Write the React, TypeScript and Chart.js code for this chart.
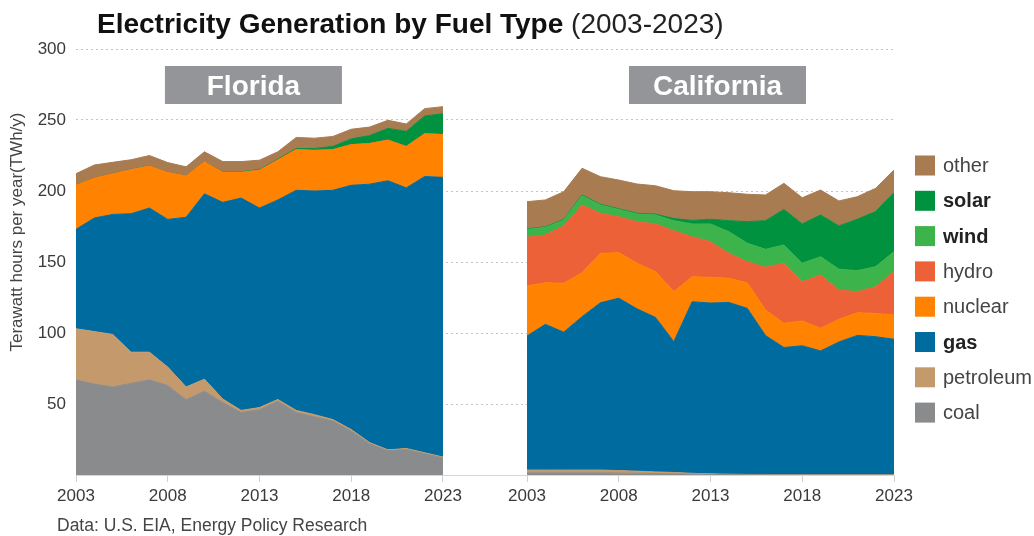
import { useEffect, useRef } from 'react';
import { Chart, registerables } from 'chart.js';

Chart.register(...registerables);

// ---------- data ----------
const years = [2003, 2004, 2005, 2006, 2007, 2008, 2009, 2010, 2011, 2012, 2013, 2014, 2015, 2016, 2017, 2018, 2019, 2020, 2021, 2022, 2023];
const tickYears = [2003, 2008, 2013, 2018, 2023];
const panels = ['Florida', 'California'];
const fuels = ['coal', 'petroleum', 'gas', 'nuclear', 'hydro', 'wind', 'solar', 'other'];
const legendOrder = ['other', 'solar', 'wind', 'hydro', 'nuclear', 'gas', 'petroleum', 'coal'];
const boldFuels = ['solar', 'wind', 'gas'];

const titleMain = 'Electricity Generation by Fuel Type';
const titleSub = ' (2003-2023)';
const yTitle = 'Terawatt hours per year(TWh/y)';
const sourceText = 'Data: U.S. EIA, Energy Policy Research';

// Florida (TWh)
const flCoal = [67, 64, 62, 64.5, 67, 63, 53, 59, 51, 44, 46, 52, 44, 41, 38, 31, 22, 17, 18, 15, 12];
const flPetroleum = [36, 37, 37, 22, 19.5, 13, 9, 8.5, 2.5, 1.5, 1.5, 1.2, 1.5, 1.5, 1, 1, 0.8, 0.7, 0.7, 0.7, 0.6];
const flGas = [70, 80, 84.5, 97.5, 101.5, 104, 119.5, 130.5, 138.5, 149.5, 140.5, 140.5, 155, 157.5, 161.5, 172, 182, 189.5, 183.5, 194.5, 197];
const flNuclear = [31, 28, 28.5, 31, 29.5, 33, 29, 22.5, 21, 18, 26.5, 28, 28.5, 28.5, 28.5, 28.5, 28.5, 28.5, 29, 30, 30];
const flHydro = [0.2, 0.2, 0.2, 0.2, 0.2, 0.2, 0.2, 0.2, 0.2, 0.2, 0.2, 0.2, 0.2, 0.2, 0.2, 0.2, 0.2, 0.2, 0.2, 0.2, 0.2];
const flWind = [0, 0, 0, 0, 0, 0, 0, 0, 0, 0, 0, 0, 0, 0, 0, 0, 0, 0, 0, 0, 0];
const flSolar = [0, 0, 0, 0, 0, 0, 0, 0, 0.2, 0.3, 0.4, 0.5, 0.7, 1.2, 2.2, 4, 5.5, 8.2, 10.6, 12.4, 14.6];
const flOther = [8, 9.1, 8, 6.8, 7.3, 6.8, 6.3, 6.9, 7.3, 7.2, 6.6, 5.2, 7.8, 7.3, 7, 6.8, 6, 5.7, 5.2, 5.2, 5];

// California (TWh)
const caCoal = [1.5, 1.5, 1.5, 1.5, 1.5, 1.3, 1.2, 1.0, 0.8, 0.6, 0.4, 0.3, 0.2, 0.1, 0.1, 0.1, 0.1, 0.1, 0.1, 0.1, 0.1];
const caPetroleum = [2, 2, 2, 2, 2, 1.8, 1.5, 1.2, 1, 0.6, 0.4, 0.3, 0.2, 0.2, 0.2, 0.2, 0.2, 0.2, 0.2, 0.2, 0.2];
const caGas = [94.4, 102.6, 97.1, 108, 117.8, 121.4, 114.3, 108.8, 92.1, 120.8, 120.3, 120.9, 117, 97.9, 89.5, 90.7, 87.1, 93.4, 98, 97.1, 95.3];
const caNuclear = [35.2, 29.3, 34.4, 31, 34.8, 32.1, 32.1, 32.2, 35.2, 17.6, 18.1, 17, 18, 18, 17, 17.5, 15.9, 15.9, 16, 16.4, 17.1];
const caHydro = [34.3, 33.6, 40.4, 47.6, 28.2, 25.3, 29.3, 33.6, 42.9, 28.2, 25.1, 17.6, 14.8, 30.1, 42.3, 27.6, 37.5, 20.7, 14.8, 18.8, 30.5];
const caWind = [5.6, 5.4, 4.2, 6.6, 5.8, 5.1, 5.4, 6.3, 7.1, 9, 12.5, 15.2, 13, 12.6, 12.9, 13, 12.9, 14.6, 14.8, 14.1, 14.1];
const caSolar = [0.4, 0.4, 0.4, 0.5, 0.5, 0.5, 0.5, 0.6, 1.5, 2.5, 3.3, 7.8, 15.2, 20.2, 25, 27.7, 29.4, 30.5, 36.2, 38.8, 41.6];
const caOther = [19.1, 18.9, 19.5, 18.8, 19.5, 20.2, 20.6, 20, 19.6, 20.2, 19.4, 19.7, 19.3, 18.1, 18.4, 18.5, 17.6, 17.6, 15.9, 16.4, 15.9];

const flSeries: Record<string, number[]> = {
  coal: flCoal, petroleum: flPetroleum, gas: flGas, nuclear: flNuclear,
  hydro: flHydro, wind: flWind, solar: flSolar, other: flOther,
};
const caSeries: Record<string, number[]> = {
  coal: caCoal, petroleum: caPetroleum, gas: caGas, nuclear: caNuclear,
  hydro: caHydro, wind: caWind, solar: caSolar, other: caOther,
};

const colors: Record<string, string> = {
  coal: '#8a8b8d',
  petroleum: '#c49a6c',
  gas: '#006b9f',
  nuclear: '#ff8300',
  hydro: '#ec6137',
  wind: '#3cb44b',
  solar: '#00923f',
  other: '#a87b50',
};

// ---------- layout ----------
const FONT = '"Liberation Sans", Arial, Helvetica, sans-serif';
const GAP = 24.58; // x offset of California panel (in years)
const yearSpan = years[years.length - 1] - years[0];

function App() {
  const ref = useRef<HTMLCanvasElement | null>(null);

  useEffect(() => {
    const canvas = ref.current;
    if (!canvas) return;

    const mkSets = (series: Record<string, number[]>, offset: number, stack: string) =>
      fuels.map((f, i) => ({
        label: f,
        stack,
        data: years.map((yr, j) => ({ x: yr - years[0] + offset, y: series[f][j] })),
        backgroundColor: colors[f],
        borderColor: colors[f],
        borderWidth: 1,
        pointRadius: 0,
        pointHoverRadius: 0,
        tension: 0,
        fill: i === 0 ? 'origin' : '-1',
      }));

    const datasets = [...mkSets(flSeries, 0, 'FL'), ...mkSets(caSeries, GAP, 'CA')];
    const tickVals = [
      ...tickYears.map((y) => y - years[0]),
      ...tickYears.map((y) => y - years[0] + GAP),
    ];

    const decor = {
      id: 'decor',
      afterDraw(chart: any) {
        const ctx = chart.ctx as CanvasRenderingContext2D;
        const xs = chart.scales.x;
        const area = chart.chartArea;
        ctx.save();
        // title
        ctx.textAlign = 'left';
        ctx.textBaseline = 'alphabetic';
        ctx.fillStyle = '#111';
        ctx.font = `bold 28px ${FONT}`;
        ctx.fillText(titleMain, 97, 33);
        const w = ctx.measureText(titleMain).width;
        ctx.font = `28px ${FONT}`;
        ctx.fillStyle = '#222';
        ctx.fillText(titleSub, 97 + w, 33);

        // panel labels
        const centers = [yearSpan / 2 - 0.33, GAP + yearSpan / 2 + 0.38];
        panels.forEach((p, i) => {
          const cx = xs.getPixelForValue(centers[i]);
          ctx.fillStyle = '#939598';
          ctx.fillRect(cx - 88.5, 66, 177, 38);
          ctx.fillStyle = '#ffffff';
          ctx.font = `bold 28px ${FONT}`;
          ctx.textAlign = 'center';
          ctx.textBaseline = 'alphabetic';
          ctx.fillText(p, cx, 95);
        });

        // y title
        ctx.save();
        ctx.translate(17, 232);
        ctx.rotate(-Math.PI / 2);
        ctx.textAlign = 'center';
        ctx.textBaseline = 'middle';
        ctx.fillStyle = '#444';
        ctx.font = `17px ${FONT}`;
        ctx.fillText(yTitle, 0, 0);
        ctx.restore();

        // legend
        const lx = area.right + 21;
        legendOrder.forEach((f, i) => {
          const cy = 165.5 + i * 35.3;
          ctx.fillStyle = colors[f];
          ctx.fillRect(lx, cy - 10, 20, 20);
          const bold = boldFuels.includes(f);
          ctx.font = `${bold ? 'bold ' : ''}20px ${FONT}`;
          ctx.fillStyle = bold ? '#222' : '#444';
          ctx.textAlign = 'left';
          ctx.textBaseline = 'middle';
          ctx.fillText(f, lx + 28, cy + 1);
        });

        // source
        ctx.font = `17.5px ${FONT}`;
        ctx.fillStyle = '#444';
        ctx.textAlign = 'left';
        ctx.textBaseline = 'alphabetic';
        ctx.fillText(sourceText, 57, 531);
        ctx.restore();
      },
    };

    const chart = new Chart(canvas, {
      type: 'line',
      data: { datasets: datasets as any },
      options: {
        animation: false,
        responsive: false,
        maintainAspectRatio: false,
        events: [],
        layout: { padding: { top: 49, right: 140, left: 0, bottom: 0 } },
        plugins: {
          legend: { display: false },
          tooltip: { enabled: false },
          title: { display: false },
        },
        scales: {
          x: {
            type: 'linear',
            min: 0,
            max: GAP + yearSpan,
            afterBuildTicks: (s: any) => {
              s.ticks = tickVals.map((v) => ({ value: v }));
            },
            afterFit: (s: any) => {
              s.height = 61;
            },
            ticks: {
              autoSkip: false,
              maxRotation: 0,
              minRotation: 0,
              padding: 4,
              color: '#3a3a3a',
              font: { family: FONT, size: 17 },
              callback: (v: any) => {
                const n = Number(v);
                const yr = n < yearSpan + 1 ? years[0] + n : years[0] + n - GAP;
                return String(Math.round(yr));
              },
            },
            grid: { drawOnChartArea: false, drawTicks: true, tickLength: 7, color: '#d0d0d0' },
            border: { display: true, color: '#d6d6d6' },
          },
          y: {
            stacked: true,
            min: 0,
            max: 300,
            afterFit: (s: any) => {
              s.width = 76;
            },
            ticks: {
              stepSize: 50,
              padding: 10,
              color: '#3a3a3a',
              font: { family: FONT, size: 17 },
              callback: (v: any) => (Number(v) === 0 ? '' : String(v)),
            },
            grid: { drawTicks: false, color: '#c4c4c4', lineWidth: 1 },
            border: { display: false, dash: [2, 3] },
          },
        },
      },
      plugins: [decor],
    });

    return () => chart.destroy();
  }, []);

  return (
    <div style={{ position: 'fixed', left: 0, top: 0, width: 1034, height: 536, background: '#fff' }}>
      <canvas ref={ref} width={1034} height={536} style={{ display: 'block' }} />
    </div>
  );
}

export default App;
